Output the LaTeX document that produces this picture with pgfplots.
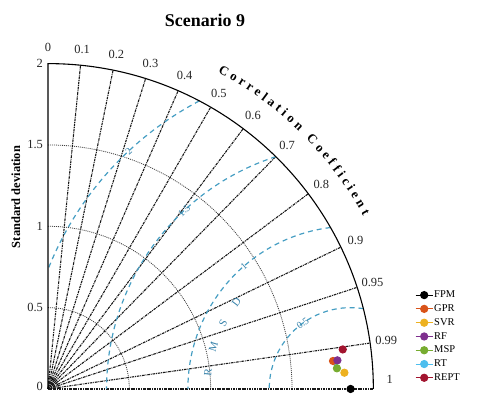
\documentclass[border=0pt]{standalone}
\usepackage{pgfplots}
\pgfplotsset{compat=1.18}
\usepackage{fontspec}
\setmainfont{Liberation Serif}
\usetikzlibrary{decorations.text}
\definecolor{cgpr}{rgb}{0.85,0.325,0.098}
\definecolor{csvr}{rgb}{0.929,0.694,0.125}
\definecolor{crf}{rgb}{0.494,0.184,0.556}
\definecolor{cmsp}{rgb}{0.466,0.674,0.188}
\definecolor{crt}{rgb}{0.301,0.745,0.933}
\definecolor{crept}{rgb}{0.635,0.078,0.184}
\definecolor{rmsc}{RGB}{70,158,195}
\definecolor{rmst}{RGB}{55,130,170}
\tikzset{
  cline/.style={black!90, line width=1.1pt, dash pattern=on 2.6pt off 0.9pt on 0.9pt off 0.9pt},
  sline/.style={black!75, line width=0.8pt, dash pattern=on 1pt off 1pt},
  rms/.style={rmsc, line width=1.2pt, dash pattern=on 5pt off 4pt},
  tick/.style={font=\fontsize{12.5}{13}\selectfont, inner sep=0pt, text=black!85},
}
\begin{document}
\begin{tikzpicture}
\begin{axis}[
  x=162.7bp, y=162.7bp,
  xmin=-0.295, xmax=2.674, ymin=-0.031, ymax=2.391,
  hide axis, clip=false,
  legend style={at={(axis cs:2.256,0.61)}, anchor=north west, draw=none, fill=none,
    font=\fontsize{10.5}{12}\selectfont, row sep=3.4bp, inner sep=0pt,
    nodes={inner sep=1bp}},
  legend cell align=left,
]
\path (axis cs:-0.295,-0.031) rectangle (axis cs:2.674,2.391);

% standard deviation arcs
\pgfplotsinvokeforeach{0.5,1,1.5}{
  \draw[sline] (axis cs:0,#1) arc[start angle=90, end angle=0, radius=#1*162.7bp];
}
\pgfplotsinvokeforeach{0.025,0.045,0.065}{
  \draw[black, line width=0.8pt] (axis cs:0,#1) arc[start angle=90, end angle=0, radius=#1*162.7bp];
}
% correlation lines
\pgfplotsinvokeforeach{0.1,0.2,0.3,0.4,0.5,0.6,0.7,0.8,0.9,0.95,0.99}{
  \draw[cline] (axis cs:0,0) -- (axis cs:{2*#1},{2*sqrt(1-#1*#1)});
  \node[tick] at (axis cs:{2.1*#1},{2.1*sqrt(1-#1*#1)}) {#1};
}
\draw[cline] (axis cs:0,0) -- (axis cs:2,0);
\node[tick] at (axis cs:0,2.1) {0};
\node[tick] at (axis cs:2.1,0.06) {1};

% RMSD contours centred at the reference
\draw[rms] (axis cs:{1.86+2*cos(117.7)},{2*sin(117.7)}) arc[start angle=117.7, end angle=158.4, radius=325.4bp];
\draw[rms] (axis cs:{1.86+1.5*cos(107.8)},{1.5*sin(107.8)}) arc[start angle=107.8, end angle=180, radius=244.05bp];
\draw[rms] (axis cs:{1.86+1*cos(97.1)},{1*sin(97.1)}) arc[start angle=97.1, end angle=180, radius=162.7bp];
\draw[rms] (axis cs:{1.86+0.5*cos(80.9)},{0.5*sin(80.9)}) arc[start angle=80.9, end angle=180, radius=81.35bp];
\node[text=rmst, font=\fontsize{10}{10}\selectfont, inner sep=0pt, rotate=43] at (axis cs:{1.86+2*cos(133)},{2*sin(133)}) {2};
\node[text=rmst, font=\fontsize{10}{10}\selectfont, inner sep=0pt, rotate=43] at (axis cs:{1.86+1.5*cos(133)},{1.5*sin(133)}) {1.5};
\node[text=rmst, font=\fontsize{10}{10}\selectfont, inner sep=0pt, rotate=41] at (axis cs:{1.86+1*cos(131)},{1*sin(131)}) {1};
\node[text=rmst, font=\fontsize{10}{10}\selectfont, inner sep=0pt, rotate=36] at (axis cs:{1.86+0.5*cos(126)},{0.5*sin(126)}) {0.5};
\path[decorate, decoration={text along path, text align=fit to path, text color=rmst,
  text={|\fontsize{11}{11}\selectfont|RMSD}}]
  (axis cs:{1.86+0.86*cos(175)},{0.86*sin(175)}) arc[start angle=175, end angle=141, radius=139.9bp];

% axes frame
\draw[black, line width=1.1pt] (axis cs:0,0) -- (axis cs:0,2) arc[start angle=90, end angle=0, radius=325.4bp];
\pgfplotsinvokeforeach{0.5,1,1.5,2}{
  \node[tick, anchor=east] at (axis cs:-0.03,#1) {#1};
}
\node[tick, anchor=east] at (axis cs:-0.03,0.014) {0};

% titles
\node[font=\fontsize{18}{20}\bfseries] at (axis cs:0.965,2.268) {Scenario 9};
\node[font=\fontsize{12.5}{13}\bfseries, rotate=90] at (axis cs:-0.197,1.18) {Standard deviation};
\path[decorate, decoration={text along path, text align=fit to path,
  text={|\fontsize{13}{13}\bfseries|Correlation Coefficient}}]
  (axis cs:{2.21*cos(61.8)},{2.21*sin(61.8)}) arc[start angle=61.8, end angle=28.8, radius=359.6bp];

% data
\addplot[crt, line width=1pt, mark=*, mark size=3.6bp, forget plot] coordinates {(1.765,0.168)};
\addplot[black, line width=1pt, mark=*, mark size=3.6bp] coordinates {(1.86,0)};
\addlegendentry{FPM}
\addplot[cgpr, line width=1pt, mark=*, mark size=3.6bp] coordinates {(1.752,0.172)};
\addlegendentry{GPR}
\addplot[csvr, line width=1pt, mark=*, mark size=3.6bp] coordinates {(1.822,0.100)};
\addlegendentry{SVR}
\addplot[crf, line width=1pt, mark=*, mark size=3.6bp] coordinates {(1.779,0.176)};
\addlegendentry{RF}
\addplot[cmsp, line width=1pt, mark=*, mark size=3.6bp] coordinates {(1.776,0.127)};
\addlegendentry{MSP}
\addlegendimage{crt, line width=1pt, mark=*, mark size=3.6bp}
\addlegendentry{RT}
\addplot[crept, line width=1pt, mark=*, mark size=3.6bp] coordinates {(1.812,0.243)};
\addlegendentry{REPT}
\end{axis}
\end{tikzpicture}
\end{document}
